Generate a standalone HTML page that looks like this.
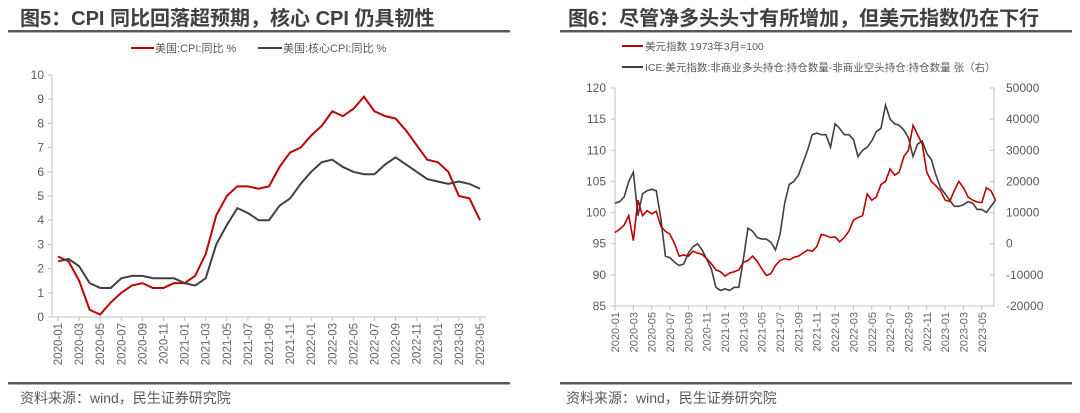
<!DOCTYPE html>
<html><head><meta charset="utf-8"><style>
body{margin:0;background:#fff;}
svg{display:block;font-family:"Liberation Sans","Noto Sans CJK SC",sans-serif;}
</style></head><body>
<svg id="s" width="1080" height="413" viewBox="0 0 1080 413">
<text x="20" y="25" font-size="20" font-weight="bold" fill="#404040">图5：CPI 同比回落超预期，核心 CPI 仍具韧性</text>
<rect x="8" y="30" width="502" height="2.5" fill="#595959"/>
<rect x="8" y="382" width="502" height="2.5" fill="#595959"/>
<text x="20" y="403" font-size="14" fill="#595959">资料来源：wind，民生证券研究院</text>
<text x="568" y="25" font-size="20" font-weight="bold" fill="#404040">图6：尽管净多头头寸有所增加，但美元指数仍在下行</text>
<rect x="560" y="30" width="512" height="2.5" fill="#595959"/>
<rect x="560" y="382" width="512" height="2.5" fill="#595959"/>
<text x="566" y="403" font-size="14" fill="#595959">资料来源：wind，民生证券研究院</text>
<g>
<line x1="131" y1="48" x2="154" y2="48" stroke="#c00000" stroke-width="2"/>
<text x="155" y="52" font-size="11" fill="#595959">美国:CPI:同比 %</text>
<line x1="258" y1="48" x2="282" y2="48" stroke="#404040" stroke-width="2"/>
<text x="283" y="52" font-size="11" fill="#595959">美国:核心CPI:同比 %</text>
</g>
<g>
<line x1="622" y1="46" x2="643" y2="46" stroke="#c00000" stroke-width="2"/>
<text x="645" y="50" font-size="10.5" fill="#595959">美元指数 1973年3月=100</text>
<line x1="622" y1="67" x2="643" y2="67" stroke="#404040" stroke-width="2"/>
<text x="645" y="71" font-size="10.5" fill="#595959">ICE:美元指数:非商业多头持仓:持仓数量-非商业空头持仓:持仓数量 张（右）</text>
</g>
</svg>
<script>
const cpiLabels=[];for(let y=2020;y<=2023;y++)for(let m=1;m<=12;m+=2){const l=y+'-'+String(m).padStart(2,'0');if(l<='2023-05')cpiLabels.push(l);}
const cpiTicks=[0,1,2,3,4,5,6,7,8,9,10];
const cpiValues=[2.5,2.3,1.5,0.3,0.1,0.6,1.0,1.3,1.4,1.2,1.2,1.4,1.4,1.7,2.6,4.2,5.0,5.4,5.4,5.3,5.4,6.2,6.8,7.0,7.5,7.9,8.5,8.3,8.6,9.1,8.5,8.3,8.2,7.7,7.1,6.5,6.4,6.0,5.0,4.9,4.0];
const coreValues=[2.3,2.4,2.1,1.4,1.2,1.2,1.6,1.7,1.7,1.6,1.6,1.6,1.4,1.3,1.6,3.0,3.8,4.5,4.3,4.0,4.0,4.6,4.9,5.5,6.0,6.4,6.5,6.2,6.0,5.9,5.9,6.3,6.6,6.3,6.0,5.7,5.6,5.5,5.6,5.5,5.3];
const dxyLeftTicks=[85,90,95,100,105,110,115,120];
const netRightTicks=[-20000,-10000,0,10000,20000,30000,40000,50000];
const dxyLabels=cpiLabels.slice();
const dxyValues=[96.8,97.3,98,99.5,95.5,102,99.5,100.3,99.8,100.2,97.8,97,96.5,95,93,93.2,93,93.8,93.5,93.3,92.6,91.8,90.8,90.5,89.8,90.3,90.5,90.8,92,92.3,93,92.2,91,89.9,90.2,91.5,92.3,92.6,92.4,92.8,93,93.5,94,93.8,94.5,96.5,96.3,96,96.1,95.3,96,97,98.8,99.2,99.5,103,102,102.5,104.5,105,107,106,106.5,109,110,114,112.5,111,106.5,105,104.3,103.5,102,101.8,103.5,105,104,102.5,102,101.7,101.6,104,103.5,102];
const netValues=[13,13.5,15,20,23,9,16,17,17.5,17,8,-4,-4.5,-6,-7,-6.5,-3,-1,0,-2,-5,-8,-14,-15,-14.5,-15,-14,-14,-5,5,4,2,1.5,1.5,0.5,-2,3,13,19,20,22,26,30,35,35.5,35,35,31,38.5,37,35,35,33.5,28,30,31,33,36,37,44.5,40,38.5,38,36.5,34,28,32,33,29,27,22,18,16,14,12,12,12.5,13.5,13,11,11,10,12,14].map(v=>v*1000);

const S=document.getElementById('s'),NS='http://www.w3.org/2000/svg';
function mk(t,a,p){const e=document.createElementNS(NS,t);for(const k in a)e.setAttribute(k,a[k]);(p||S).appendChild(e);return e;}
const GRAY='#595959',AX='#bfbfbf';

const L={x0:52,x1:486,y0:317,y1:75,first:58,step:10.55};
const lx=i=>L.first+i*L.step, ly=v=>L.y0-(v-0)/(10-0)*(L.y0-L.y1);
const lg=mk('g',{});
const la=mk('path',{d:`M${L.x0},${L.y1}V${L.y0}H${L.x1}`,stroke:AX,fill:'none'},lg);

cpiTicks.forEach(v=>{mk('line',{x1:L.x0-4,x2:L.x0,y1:ly(v),y2:ly(v),stroke:AX},lg);
 const t=mk('text',{x:44,y:ly(v)+4,'text-anchor':'end','font-size':12,fill:GRAY},lg);t.textContent=v;
 });
cpiLabels.forEach((l,k)=>{const x=lx(k*2);mk('line',{x1:x,x2:x,y1:L.y0,y2:L.y0+4,stroke:AX},lg);
 const t=mk('text',{x:0,y:0,transform:`translate(${x+4},${L.y0+6}) rotate(-90)`,'text-anchor':'end','font-size':11.5,fill:'#666'},lg);t.textContent=l;
 });
const pc=mk('path',{d:cpiValues.map((v,i)=>(i?'L':'M')+lx(i)+','+ly(v)).join(''),stroke:'#c00000','stroke-width':2,fill:'none'},lg);

const pk=mk('path',{d:coreValues.map((v,i)=>(i?'L':'M')+lx(i)+','+ly(v)).join(''),stroke:'#404040','stroke-width':2,fill:'none'},lg);


const R={x0:615,x1:994,y0:306,y1:88,pxm:9.17};
const rx=i=>R.x0+i/2*R.pxm, ryL=v=>R.y0-(v-85)/(120-85)*(R.y0-R.y1), ryR=v=>R.y0-(v+20000)/70000*(R.y0-R.y1);
const rg=mk('g',{});
const ra=mk('path',{d:`M${R.x0},${R.y1}V${R.y0}H${R.x1}V${R.y1}`,stroke:AX,fill:'none'},rg);

dxyLeftTicks.forEach(v=>{mk('line',{x1:R.x0-4,x2:R.x0,y1:ryL(v),y2:ryL(v),stroke:AX},rg);
 const t=mk('text',{x:606,y:ryL(v)+4,'text-anchor':'end','font-size':12,fill:GRAY},rg);t.textContent=v;
 });
netRightTicks.forEach(v=>{mk('line',{x1:R.x1-4,x2:R.x1,y1:ryR(v),y2:ryR(v),stroke:AX},rg);
 const t=mk('text',{x:1006,y:ryR(v)+4,'font-size':12,fill:GRAY},rg);t.textContent=v;
 });
dxyLabels.forEach((l,k)=>{const x=rx(k*4);mk('line',{x1:x,x2:x,y1:R.y0,y2:R.y0+4,stroke:AX},rg);
 const t=mk('text',{x:0,y:0,transform:`translate(${x+4},${R.y0+6}) rotate(-90)`,'text-anchor':'end','font-size':11,fill:'#666'},rg);t.textContent=l;
 });
const pn=mk('path',{d:netValues.map((v,i)=>(i?'L':'M')+rx(i)+','+ryR(v)).join(''),stroke:'#404040','stroke-width':1.6,fill:'none'},rg);

const pd=mk('path',{d:dxyValues.map((v,i)=>(i?'L':'M')+rx(i)+','+ryL(v)).join(''),stroke:'#c00000','stroke-width':1.6,fill:'none'},rg);

</script>
</body></html>
